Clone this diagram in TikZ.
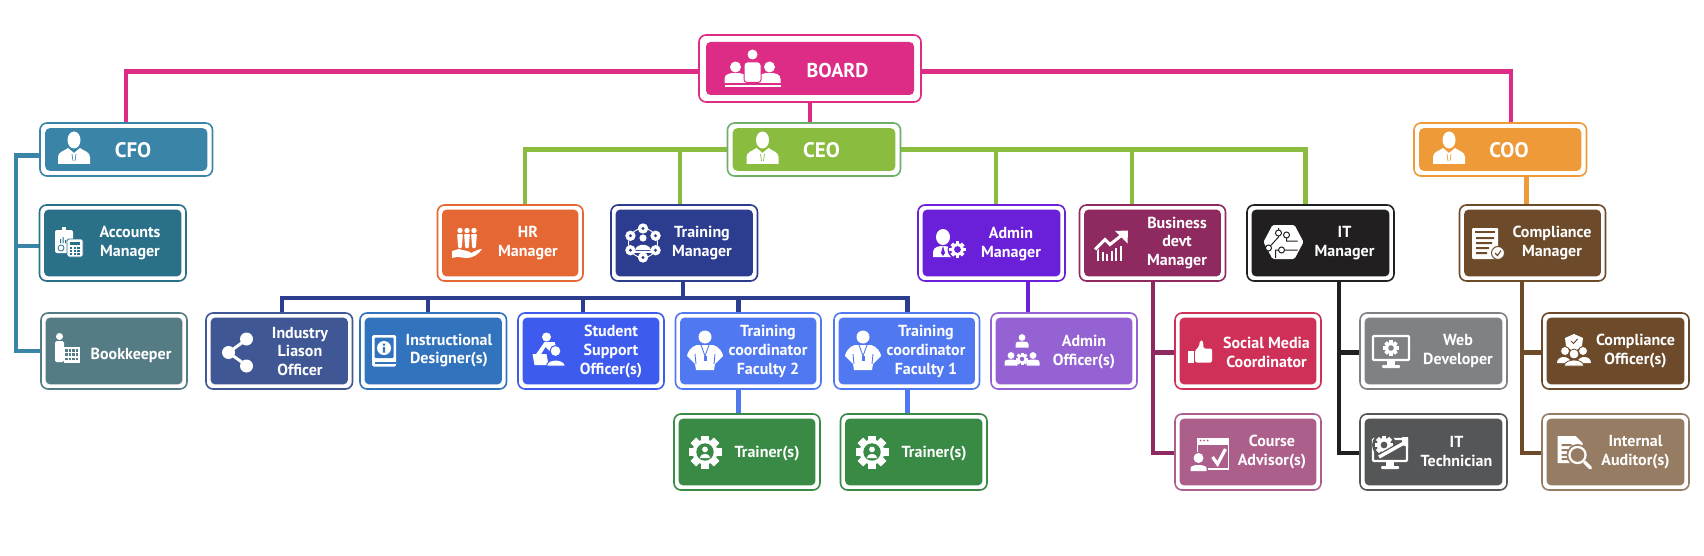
\documentclass[tikz,border=0pt]{standalone}
\usepackage{fontspec}
\setmainfont{PT Sans}
\usetikzlibrary{backgrounds}

% Box and connector palette
\definecolor{cBoard}{HTML}{DD2C86}
\definecolor{cCfo}{HTML}{3A84A8}
\definecolor{cAcc}{HTML}{2A7089}
\definecolor{cBook}{HTML}{557C84}
\definecolor{cCeo}{HTML}{8ABD3F}
\definecolor{cCeoEdge}{HTML}{6DAF6B}
\definecolor{cCoo}{HTML}{EE9A38}
\definecolor{cHr}{HTML}{E46734}
\definecolor{cTrain}{HTML}{2C3C8E}
\definecolor{cAdmin}{HTML}{6A1FD8}
\definecolor{cBiz}{HTML}{8F2A60}
\definecolor{cIt}{HTML}{211F20}
\definecolor{cComp}{HTML}{6C4A2A}
\definecolor{cInd}{HTML}{3F5795}
\definecolor{cInstr}{HTML}{3173BC}
\definecolor{cStud}{HTML}{3D5BEE}
\definecolor{cCoord}{HTML}{5078F0}
\definecolor{cGreen}{HTML}{388A45}
\definecolor{cAdOff}{HTML}{9462D2}
\definecolor{cSoc}{HTML}{CF3058}
\definecolor{cCourse}{HTML}{AD5F8C}
\definecolor{cWeb}{HTML}{7F8184}
\definecolor{cTech}{HTML}{555658}
\definecolor{cAudit}{HTML}{957C62}

\colorlet{boxfill}{black}

% A gear: hub of radius #2 with eight teeth reaching radius #1
\newcommand{\gearblank}[2]{%
  \fill[white] (0,0) circle (#2);
  \foreach \a in {0,45,...,135}{
    \fill[white,rotate=\a] (-#1,-#1*0.24) rectangle (#1,#1*0.24);
  }
}

\tikzset{
  orgouter/.style={draw=#1,fill=white,line width=1.6pt,inner sep=0pt,outer sep=0pt},
  orginner/.style={fill=#1,draw=none,inner sep=0pt,outer sep=0pt},
  lbl/.style={text=white,align=center,inner sep=0pt,
    font=\bfseries\fontsize{16}{18.7}\selectfont},
  headlbl/.style={text=white,inner sep=0pt,font=\bfseries\fontsize{21}{24}\selectfont},
  link/.style={draw=#1,line width=4.4pt,line cap=butt,line join=miter},
  % white pictograms, drawn about their own centre with y pointing down
  pics/exec/.style={code={
    \fill[white] (0,-8) ellipse (6.5 and 8.5);
    \fill[white] (-16,16) -- (-16,9) .. controls (-16,4) and (-10,3) .. (-6,0) -- (0,5)
      -- (6,0) .. controls (10,3) and (16,4) .. (16,9) -- (16,16) -- cycle;
    \draw[boxfill,line width=.7pt] (-2,6) -- (-1,13) (2,6) -- (1,13);
  }},
  pics/boardicon/.style={code={
    \fill[white] (-17,-3) circle (5.5) (17,-3) circle (5.5);
    \fill[white] (-28,13) -- (-28,9) .. controls (-28,4) and (-23,3) .. (-17,3)
      .. controls (-11,3) and (-6,4) .. (-6,9) -- (-6,13) -- cycle;
    \fill[white] (28,13) -- (28,9) .. controls (28,4) and (23,3) .. (17,3)
      .. controls (11,3) and (6,4) .. (6,9) -- (6,13) -- cycle;
    \fill[white] (0,-15.5) circle (5);
    \fill[white,draw=boxfill,line width=1pt,rounded corners=3pt] (-8.5,12.5) -- (-8.5,-8) -- (8.5,-8) -- (8.5,12.5) -- cycle;
    \fill[white] (-28,14.8) rectangle (28,16.8);
  }},
  pics/calc/.style={code={
    \fill[white,rounded corners=2pt] (-14,-12) rectangle (4,11);
    \fill[white] (-7,-15) rectangle (-3,-11);
    \fill[boxfill] (-9,-3) rectangle (-8,1) (-6.5,-5) rectangle (-5.5,1) (-4,-2) rectangle (-3,1);
    \draw[boxfill,line width=.8pt] (-8,6) circle (3);
    \fill[white,draw=boxfill,line width=.9pt,rounded corners=1.5pt] (-2,-3) rectangle (14,15);
    \fill[boxfill] (1,0) rectangle (11,3);
    \foreach \i in {0,1,2}{\foreach \j in {0,1,2}{
      \fill[boxfill] (0.8+\i*3.8,4.8+\j*3.2) rectangle ++(2.6,2);}}
  }},
  pics/keeper/.style={code={
    \fill[white] (-7.5,-11.5) circle (3.5);
    \fill[white,rounded corners=1.5pt] (-12,-7) rectangle (-3,14);
    \fill[white] (-3,-1) rectangle (13,14.5);
    \foreach \i in {0,1,2,3}{\foreach \j in {0,1,2}{
      \fill[boxfill] (-1.6+\i*3.5,1+\j*4.4) rectangle ++(2.2,2.6);}}
  }},
  pics/hrhand/.style={code={
    \foreach \x in {-7,0,7}{
      \fill[white] (\x,-12.5) circle (2.7);
      \fill[white,rounded corners=1pt] (\x-2.9,-9) -- (\x+2.9,-9) -- (\x+1.8,5) -- (\x-1.8,5) -- cycle;
    }
    \fill[white] (-15,8) -- (-8,6) .. controls (-2,8) and (3,8) .. (4,10)
      .. controls (8,8) and (12,6) .. (15,6) .. controls (12,11) and (6,15) .. (0,15)
      .. controls (-5,15) and (-8,13) .. (-15,15) -- cycle;
  }},
  pics/share/.style={code={
    \draw[white,line width=3pt] (8,-13) -- (-10,0) -- (8,13);
    \fill[white] (8,-13.5) circle (6.5) (8,13.5) circle (6.5) (-10,0) circle (6.5);
  }},
  pics/bookicon/.style={code={
    \fill[white,rounded corners=1.5pt] (-12,-16) rectangle (12,15.5);
    \fill[boxfill,rounded corners=1pt] (-9.5,-13.5) rectangle (9.5,7);
    \fill[white] (0,-3) circle (7);
    \fill[boxfill] (-1.2,-4) rectangle (1.2,1.5) (-1.2,-7.5) rectangle (1.2,-5.4);
    \fill[boxfill] (-9,10.5) rectangle (12,13);
  }},
  pics/hub/.style={code={
    \draw[white,line width=.9pt] (0,0) circle (14.5);
    \foreach \a in {30,90,...,330}{
      \fill[white] (\a:14.5) circle (5.2);
      \fill[boxfill] (\a:14.5) circle (1.6);
    }
    \fill[white] (0,-5) circle (3.6);
    \fill[white] (-8,7) .. controls (-6,0) and (6,0) .. (8,7) -- cycle;
    \fill[white] (-9,8) rectangle (9,10);
  }},
  pics/tutor/.style={code={
    \fill[white] (-3,-13) circle (4.5);
    \fill[white] (-14,5) -- (-5,-8) -- (5,-8) -- (7,-2) -- (1,2) -- (-4,-3) -- (-9,5) -- cycle;
    \fill[white] (-17,4) -- (-3,4) -- (-1,15) -- (-15,15) -- cycle;
    \fill[white,draw=boxfill,line width=1pt] (6,1) circle (5.5);
    \fill[white,draw=boxfill,line width=1pt] (-3,16) .. controls (-3,8) and (15,8) .. (16,16) -- cycle;
  }},
  pics/coordperson/.style={code={
    \fill[white] (0,-13) circle (6.5);
    \fill[white] (-8,-5) -- (8,-5) .. controls (14,-4) and (18,3) .. (18,6) -- (10,14) -- (9,20)
      -- (-9,20) -- (-10,14) -- (-18,6) .. controls (-18,3) and (-14,-4) .. (-8,-5) -- cycle;
    \draw[boxfill,line width=.9pt] (-10,4) -- (-9,14) (10,4) -- (9,14);
    \draw[boxfill,line width=.9pt] (-4,-5) -- (0,6) -- (4,-5);
    \fill[boxfill] (-1.5,6) rectangle (1.5,11);
  }},
  pics/gearperson/.style={code={
    \gearblank{16.5}{12.5}
    \fill[boxfill] (0,0) circle (8.7);
    \fill[white] (0,-2.6) circle (2.9);
    \fill[white] (-5.2,6) .. controls (-5,0.5) and (5,0.5) .. (5.2,6) -- cycle;
  }},
  pics/adminperson/.style={code={
    \fill[white] (-6,-6) ellipse (7 and 8);
    \fill[white] (-16,14) -- (-16,9) .. controls (-16,4) and (-10,3) .. (-6,3)
      .. controls (0,3) and (4,5) .. (5,9) -- (5,14) -- cycle;
    \fill[boxfill] (-6,3) -- (-8,10) -- (-6,13) -- (-4,10) -- cycle;
    \begin{scope}[shift={(8.5,6.5)},scale=.52]
      \fill[boxfill] (0,0) circle (19);
      \gearblank{15.5}{12}
      \fill[boxfill] (0,0) circle (6.5);
    \end{scope}
  }},
  pics/minibust/.style={code={
    \fill[white] (0,-4) circle (3.4);
    \fill[white] (-6.5,6) -- (-6.5,3) .. controls (-6.5,0) and (-3,0) .. (0,0)
      .. controls (3,0) and (6.5,0) .. (6.5,3) -- (6.5,6) -- cycle;
  }},
  pics/adminteam/.style={code={
    \pic at (0,-10) {minibust};
    \pic at (-11,8) {minibust};
    \pic at (11,8) {minibust};
    \begin{scope}[shift={(0,7.5)},scale=.5]
      \gearblank{12.5}{9.5}
      \fill[boxfill] (0,0) circle (4.5);
    \end{scope}
  }},
  pics/growth/.style={code={
    \foreach \x/\h in {-15/12,-10.5/9,-6/7,-1.5/10,3/13,7.5/15}{
      \fill[white] (\x,15) rectangle (\x+2.4,15-\h);
    }
    \draw[boxfill,line width=4.5pt] (-17,4) -- (-7,-6) -- (-2,-1) -- (12,-12);
    \draw[white,line width=3pt] (-17,4) -- (-7,-6) -- (-2,-1) -- (10,-10.5);
    \fill[white] (3,-14.5) -- (16,-15) -- (15.5,-2) -- cycle;
  }},
  pics/hexchip/.style={code={
    \fill[white,rounded corners=1.5pt] (-20,0) -- (-11,-17) -- (11,-17) -- (20,0) -- (11,17) -- (-11,17) -- cycle;
    \draw[boxfill,line width=1pt] (-15,6) -- (-5,-5) -- (-5,-14)
      (-8,16) -- (-8,8) -- (-2,8) (-2,8) -- (14,8)
      (3,-8) -- (3,-1) -- (14,-1) ;
    \foreach \p in {(-15,6),(-5,-9),(-2,8),(3,-7)}{
      \fill[white,draw=boxfill,line width=1pt] \p circle (3);
    }
  }},
  pics/compdoc/.style={code={
    \fill[white,rounded corners=1pt] (-15,-15) rectangle (11,16);
    \fill[boxfill] (-12,-12) rectangle (8,-10);
    \fill[boxfill] (-11,-6) rectangle (7,-4) (-11,-1) rectangle (5,1) (-11,4) rectangle (2,6) (-11,9) rectangle (0,11);
    \fill[white,draw=boxfill,line width=1pt] (11,10) circle (6.5);
    \draw[boxfill,line width=1.1pt] (8,10) -- (10.5,12.5) -- (14,7.5);
  }},
  pics/thumb/.style={code={
    \fill[white] (-12,-1) rectangle (-6.5,11);
    \fill[white,rounded corners=1.5pt] (-5,-1) -- (-1,-5) -- (0,-11) -- (3,-11) -- (3.5,-3)
      -- (12,-3) -- (12,11) -- (-5,11) -- cycle;
  }},
  pics/courseicon/.style={code={
    \draw[white,line width=1.6pt] (-12,-3) -- (-12,-16) -- (19,-16) -- (19,14) -- (-2,14);
    \fill[white] (-12,-16.5) rectangle (19,-10);
    \fill[boxfill] (-9,-14.5) circle (1) (-5.5,-14.5) circle (1) (-2,-14.5) circle (1);
    \draw[white,line width=3.2pt] (3,2) -- (8,9) -- (16,-6);
    \fill[white] (-11,3) circle (5);
    \fill[white] (-19,16) -- (-19,13) .. controls (-19,9) and (-3,9) .. (-3,13) -- (-3,16) -- cycle;
  }},
  pics/webscreen/.style={code={
    \draw[white,line width=2.4pt,rounded corners=1pt] (-18,-15) rectangle (18,9);
    \fill[white] (-4,10) rectangle (4,15);
    \fill[white,rounded corners=1pt] (-9,14) rectangle (9,17);
    \begin{scope}[shift={(0,-3)},scale=.62]
      \gearblank{12.5}{9.5}
      \fill[boxfill] (0,0) circle (4.5);
    \end{scope}
  }},
  pics/techscreen/.style={code={
    \draw[white,line width=2.4pt,rounded corners=1pt] (-17,-13) rectangle (17,9);
    \fill[white] (-4,10) rectangle (4,15);
    \fill[white,rounded corners=1pt] (-9,14) rectangle (9,17);
    \begin{scope}[shift={(-6,-7)},scale=.75]
      \fill[boxfill] (0,0) circle (16);
      \gearblank{12.5}{9.5}
      \fill[boxfill] (0,0) circle (4.5);
    \end{scope}
    \draw[boxfill,line width=6pt] (-11,5) -- (14,-9);
    \draw[white,line width=3.4pt] (-11,5) -- (14,-9);
    \fill[white] (12,-15) -- (18,-15) -- (18,-5) -- (12,-7) -- cycle;
  }},
  pics/compteam/.style={code={
    \fill[white] (0,-17) -- (9,-13) -- (8,-5) -- (0,1) -- (-8,-5) -- (-9,-13) -- cycle;
    \draw[boxfill,line width=1pt] (-3,-10) -- (-.5,-7.5) -- (3.5,-12);
    \fill[white,draw=boxfill,line width=.8pt] (-9,0) circle (4.5) (9,0) circle (4.5);
    \fill[white] (-17,12) .. controls (-17,4) and (-4,4) .. (-3,12) -- cycle;
    \fill[white] (17,12) .. controls (17,4) and (4,4) .. (3,12) -- cycle;
    \fill[white,draw=boxfill,line width=.8pt] (0,3) circle (5);
    \fill[white,draw=boxfill,line width=.8pt] (-10,15) .. controls (-9,7) and (9,7) .. (10,15) -- cycle;
  }},
  pics/auditicon/.style={code={
    \fill[white] (-16,-16) -- (2,-16) -- (9,-9) -- (9,11) -- (-16,11) -- cycle;
    \fill[boxfill] (-12,-8) rectangle (-2,-6) (-12,-3) rectangle (-5,-1) (-12,2) rectangle (-6,4) (-12,6) rectangle (-6,8);
    \fill[boxfill] (4,3) circle (11);
    \fill[white] (4,3) circle (9.2);
    \fill[boxfill] (4,3) circle (6.8);
    \draw[white,line width=3.4pt,line cap=round] (11,10) -- (17,16);
  }},
}

% \orgbox[inset]{name}{x1}{y1}{x2}{y2}{fill}{edge}{corner radius}
\newcommand{\orgbox}[8][4.6]{%
  \colorlet{boxfill}{#7}%
  \node[orgouter=#8,rounded corners=7pt,
        minimum width={(#5-#3)*1pt},minimum height={(#6-#4)*1pt}]
       (#2) at ({(#3+#5)/2},{(#4+#6)/2}) {};
  \node[orginner=#7,rounded corners=4.5pt,
        minimum width={(#5-#3-2*#1)*1pt},minimum height={(#6-#4-2*#1)*1pt}]
       (#2-core) at (#2) {};
}

\begin{document}
\begin{tikzpicture}[x=1pt,y=-1pt]
\useasboundingbox (0,0) rectangle (1704,556);

% Top level
\orgbox[7]{board}{699}{35}{921}{102}{cBoard}{cBoard}
\pic at (752.5,70) {boardicon};
\node[headlbl,font=\bfseries\fontsize{20}{24}\selectfont] (board-t) at (837.5,71) {BOARD};

% Executive row
\orgbox[5.2]{cfo}{40}{123}{212.5}{176}{cCfo}{cCfo}
\pic at (74,148) {exec};
\node[headlbl] (cfo-t) at (133,150) {CFO};
\orgbox[5.2]{ceo}{727.5}{123}{900.5}{176}{cCeo}{cCeoEdge}
\pic at (762.5,148) {exec};
\node[headlbl] (ceo-t) at (821.5,150) {CEO};
\orgbox[5.2]{coo}{1414}{123}{1586.5}{176}{cCoo}{cCoo}
\pic at (1449,148) {exec};
\node[headlbl] (coo-t) at (1509,150) {COO};

% Manager row
\orgbox{acc}{39.5}{205}{186}{281}{cAcc}{cAcc}
\pic at (69,242) {calc};
\node[lbl] (acc-t) at (130,243) {Accounts\\Manager};
\orgbox{hr}{437.5}{205}{583}{281}{cHr}{cHr}
\pic at (467,243) {hrhand};
\node[lbl] (hr-t) at (528,243) {HR\\Manager};
\orgbox{train}{611}{205}{757.5}{281}{cTrain}{cTrain}
\pic at (643,243) {hub};
\node[lbl] (train-t) at (702,243) {Training\\Manager};
\orgbox{admin}{918}{205}{1065}{281}{cAdmin}{cAdmin}
\pic at (949,243) {adminperson};
\node[lbl] (admin-t) at (1011,244) {Admin\\Manager};
\orgbox{biz}{1079.5}{205}{1225.5}{281}{cBiz}{cBiz}
\pic at (1112,245.5) {growth};
\node[lbl] (biz-t) at (1177,243) {Business\\devt\\Manager};
\orgbox{it}{1247}{205}{1394}{281}{cIt}{cIt}
\pic at (1283.5,242) {hexchip};
\node[lbl] (it-t) at (1344.5,243) {IT\\Manager};
\orgbox{comp}{1459.5}{205}{1605.5}{281}{cComp}{cComp}
\pic at (1487,243) {compdoc};
\node[lbl] (comp-t) at (1552,243) {Compliance\\Manager};

% Officer row
\orgbox{book}{41}{313}{187}{389}{cBook}{cBook}
\pic at (67,348) {keeper};
\node[lbl] (book-t) at (131,355) {Bookkeeper};
\orgbox{ind}{206}{313}{352.5}{389}{cInd}{cInd}
\pic at (238.5,352.5) {share};
\node[lbl] (ind-t) at (300,351.5) {Industry\\Liason\\Officer};
\orgbox{instr}{360}{313}{506.5}{389}{cInstr}{cInstr}
\pic at (384,351) {bookicon};
\node[lbl] (instr-t) at (449,350.5) {Instructional\\Designer(s)};
\orgbox{stud}{518}{313}{664}{389}{cStud}{cStud}
\pic at (549.5,350) {tutor};
\node[lbl] (stud-t) at (611,351.5) {Student\\Support\\Officer(s)};
\orgbox{coordb}{675.5}{313}{821}{389}{cCoord}{cCoord}
\pic at (705,350) {coordperson};
\node[lbl] (coordb-t) at (768,351.5) {Training\\coordinator\\Faculty 2};
\orgbox{coorda}{834}{313}{979.5}{389}{cCoord}{cCoord}
\pic at (863,350) {coordperson};
\node[lbl] (coorda-t) at (926,351.5) {Training\\coordinator\\Faculty 1};
\orgbox{adoff}{991}{313}{1137}{389}{cAdOff}{cAdOff}
\pic at (1022,351.5) {adminteam};
\node[lbl] (adoff-t) at (1084,352) {Admin\\Officer(s)};
\orgbox{soc}{1175}{313}{1321}{389}{cSoc}{cSoc}
\pic at (1200,351.5) {thumb};
\node[lbl] (soc-t) at (1266.5,352.5) {Social Media\\Coordinator};
\orgbox{web}{1360}{313}{1507}{389}{cWeb}{cWeb}
\pic at (1391,351) {webscreen};
\node[lbl] (web-t) at (1458,351) {Web\\Developer};
\orgbox{coff}{1542}{313}{1689}{389}{cComp}{cComp}
\pic at (1574,351) {compteam};
\node[lbl] (coff-t) at (1635.5,351) {Compliance\\Officer(s)};

% Lowest row
\orgbox{traina}{674}{414}{820}{490}{cGreen}{cGreen}
\pic at (705,452) {gearperson};
\node[lbl] (traina-t) at (767,454) {Trainer(s)};
\orgbox{trainb}{840.5}{414}{987}{490}{cGreen}{cGreen}
\pic at (872,452) {gearperson};
\node[lbl] (trainb-t) at (934,454) {Trainer(s)};
\orgbox{course}{1175}{414}{1321}{490}{cCourse}{cCourse}
\pic at (1209.5,455) {courseicon};
\node[lbl] (course-t) at (1272,452) {Course\\Advisor(s)};
\orgbox{tech}{1360}{414}{1507}{490}{cTech}{cTech}
\pic at (1390,452) {techscreen};
\node[lbl] (tech-t) at (1456.5,451.5) {IT\\Technician};
\orgbox{audit}{1542}{414}{1689}{490}{cAudit}{cAudit}
\pic at (1573.5,452) {auditicon};
\node[lbl] (audit-t) at (1635.5,452) {Internal\\Auditor(s)};

% Connectors sit behind the boxes
\begin{scope}[on background layer]
  % from the board
  \draw[link=cBoard] ([yshift=-3pt]board.west) -| (cfo.north);
  \draw[link=cBoard] ([yshift=-3pt]board.east) -| ([xshift=11pt]coo.north);
  \draw[link=cBoard] (board.south) -- (board.south |- ceo.north);

  % CFO rail
  \coordinate (cfoRail) at (16,246);
  \draw[link=cCfo] ([yshift=-6pt]cfo.west) -- ([yshift=-6pt]cfo.west -| cfoRail)
    -- (book.west -| cfoRail) -- (book.west);
  \draw[link=cCfo] ([yshift=-3pt]acc.west) -- ([yshift=-3pt]acc.west -| cfoRail);

  % CEO branches
  \coordinate (hrTop) at ([xshift=15pt]hr.north);
  \coordinate (trainTop) at ([xshift=-4.4pt]train.north);
  \coordinate (adminTop) at ([xshift=4.2pt]admin.north);
  \coordinate (bizTop) at ([xshift=-20.5pt]biz.north);
  \coordinate (itTop) at ([xshift=-15pt]it.north);
  \draw[link=cCeo] (ceo.west) -| (hrTop);
  \draw[link=cCeo] (trainTop) -- (trainTop |- ceo.west);
  \draw[link=cCeo] (ceo.east) -| (itTop);
  \draw[link=cCeo] (adminTop) -- (adminTop |- ceo.east);
  \draw[link=cCeo] (bizTop) -- (bizTop |- ceo.east);

  % COO to compliance
  \coordinate (cooFoot) at ([xshift=26.4pt]coo.south);
  \draw[link=cCoo] (cooFoot) -- (cooFoot |- comp.north);

  % Training manager bar
  \coordinate (trainBar) at ([xshift=-1pt,yshift=-16.7pt]train.south);
  \coordinate (indTop) at ([xshift=3pt]ind.north);
  \coordinate (instrTop) at ([xshift=-5pt]instr.north);
  \coordinate (studTop) at ([xshift=-8pt]stud.north);
  \coordinate (coordbTop) at ([xshift=-9.6pt]coordb.north);
  \coordinate (coordaTop) at ([xshift=.8pt]coorda.north);
  \draw[link=cTrain] ([xshift=-1pt]train.south) -- (trainBar);
  \draw[link=cTrain] (indTop) |- (trainBar) -| (coordaTop);
  \draw[link=cTrain] (instrTop) -- (instrTop |- trainBar);
  \draw[link=cTrain] (studTop) -- (studTop |- trainBar);
  \draw[link=cTrain] (coordbTop) -- (coordbTop |- trainBar);

  % Coordinators to trainers
  \draw[link=cCoord] ([xshift=-9.6pt]coordb.south) -- ([xshift=-9.6pt]coordb.south |- traina.north);
  \draw[link=cCoord] ([xshift=.8pt]coorda.south) -- ([xshift=.8pt]coorda.south |- trainb.north);

  % Admin manager to officer
  \coordinate (adminFoot) at ([xshift=36.5pt]admin.south);
  \draw[link=cAdmin] (adminFoot) -- (adminFoot |- adoff.north);

  % Business development rail
  \coordinate (bizFoot) at ([xshift=.5pt]biz.south);
  \draw[link=cBiz] (bizFoot) |- ([yshift=-1pt]course.west);
  \draw[link=cBiz] ([yshift=-1.5pt]soc.west) -- ([yshift=-1.5pt]soc.west -| bizFoot);

  % IT rail
  \coordinate (itFoot) at ([xshift=18.5pt]it.south);
  \draw[link=cIt] (itFoot) |- ([yshift=-1pt]tech.west);
  \draw[link=cIt] ([yshift=-1.5pt]web.west) -- ([yshift=-1.5pt]web.west -| itFoot);

  % Compliance rail
  \coordinate (compFoot) at ([xshift=-10.5pt]comp.south);
  \draw[link=cComp] (compFoot) |- ([yshift=-1pt]audit.west);
  \draw[link=cComp] ([yshift=-1.5pt]coff.west) -- ([yshift=-1.5pt]coff.west -| compFoot);
\end{scope}
\end{tikzpicture}
\end{document}
